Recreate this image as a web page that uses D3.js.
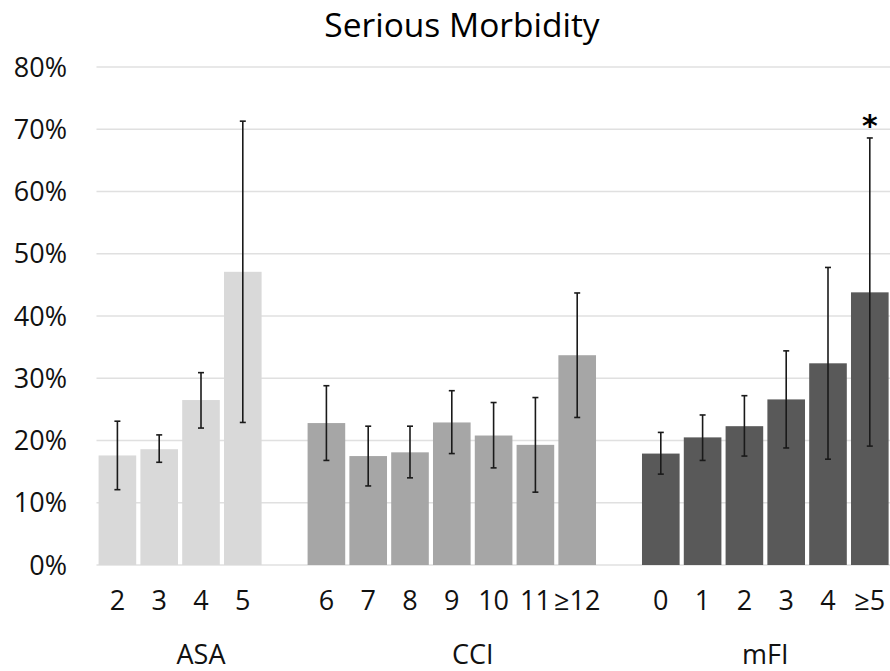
<!DOCTYPE html>
<html>
<head>
<meta charset="utf-8">
<script src="https://cdn.jsdelivr.net/npm/d3@7.9.0/dist/d3.min.js"></script>
<style>
  body { margin: 0; background: #fff; }
  svg { display: block; font-family: "Open Sans", sans-serif; }
</style>
</head>
<body>
<svg id="chart" width="890" height="671"></svg>
<script>
// Chart data (serious morbidity rate, 95% CI)
const groups = ["ASA", "CCI", "mFI"];

const asaLabels = ["2", "3", "4", "5"];
const asaValues = [0.176, 0.186, 0.265, 0.471];
const asaLow = [0.121, 0.165, 0.220, 0.229];
const asaHigh = [0.231, 0.209, 0.309, 0.713];

const cciLabels = ["6", "7", "8", "9", "10", "11", "≥12"];
const cciValues = [0.228, 0.175, 0.181, 0.229, 0.208, 0.193, 0.337];
const cciLow = [0.168, 0.127, 0.140, 0.179, 0.156, 0.117, 0.237];
const cciHigh = [0.288, 0.223, 0.223, 0.280, 0.261, 0.269, 0.437];

const mfiLabels = ["0", "1", "2", "3", "4", "≥5"];
const mfiValues = [0.179, 0.205, 0.223, 0.266, 0.324, 0.438];
const mfiLow = [0.146, 0.168, 0.175, 0.188, 0.170, 0.191];
const mfiHigh = [0.213, 0.241, 0.272, 0.344, 0.478, 0.686];

const yTicks = [0, 0.1, 0.2, 0.3, 0.4, 0.5, 0.6, 0.7, 0.8];
const colors = { ASA: "#d9d9d9", CCI: "#a6a6a6", mFI: "#595959" };

// build rows, with one empty slot between groups (like the excel chart)
const raw = [
  [asaLabels, asaValues, asaLow, asaHigh],
  [cciLabels, cciValues, cciLow, cciHigh],
  [mfiLabels, mfiValues, mfiLow, mfiHigh]
];
let rows = [];
let slots = [];
raw.forEach(([labels, vals, lo, hi], g) => {
  labels.forEach((l, i) => {
    const key = groups[g] + "|" + l;
    slots.push(key);
    rows.push({ key, group: groups[g], label: l, value: vals[i], low: lo[i], high: hi[i] });
  });
  if (g < raw.length - 1) slots.push("gap" + g);
});

const svg = d3.select("#chart");
const plotLeft = 96.5, plotRight = 890.7, plotTop = 67, plotBottom = 565;

const x = d3.scaleBand().domain(slots).range([plotLeft, plotRight]).paddingInner(0.1).paddingOuter(0.05);
const y = d3.scaleLinear().domain([0, 0.8]).range([plotBottom, plotTop]);

// title
svg.append("text")
  .attr("x", 462).attr("y", 37)
  .attr("text-anchor", "middle")
  .attr("font-size", 33.5)
  .attr("fill", "#000")
  .text("Serious Morbidity");

// gridlines
svg.append("g").selectAll("line").data(yTicks).join("line")
  .attr("x1", plotLeft).attr("x2", 890)
  .attr("y1", d => y(d)).attr("y2", d => y(d))
  .attr("stroke", "#e0e0e0").attr("stroke-width", 1.5);

// y axis labels
svg.append("g").selectAll("text").data(yTicks).join("text")
  .attr("x", 67).attr("y", d => y(d) + 9.5)
  .attr("text-anchor", "end")
  .attr("font-size", 27)
  .attr("fill", "#111")
  .text(d => d3.format(".0%")(d));

// bars
svg.append("g").selectAll("rect").data(rows).join("rect")
  .attr("x", d => x(d.key))
  .attr("width", x.bandwidth())
  .attr("y", d => y(d.value))
  .attr("height", d => y(0) - y(d.value))
  .attr("fill", d => colors[d.group]);

// error bars
const err = svg.append("g").attr("stroke", "#1a1a1a").attr("stroke-width", 1.6);
rows.forEach(d => {
  const cx = x(d.key) + x.bandwidth() / 2;
  err.append("line").attr("x1", cx).attr("x2", cx).attr("y1", y(d.low)).attr("y2", y(d.high));
  err.append("line").attr("x1", cx - 3).attr("x2", cx + 3).attr("y1", y(d.low)).attr("y2", y(d.low));
  err.append("line").attr("x1", cx - 3).attr("x2", cx + 3).attr("y1", y(d.high)).attr("y2", y(d.high));
});

// significance marker on mFI >=5
const last = rows[rows.length - 1];
svg.append("text")
  .attr("x", x(last.key) + x.bandwidth() / 2)
  .attr("y", y(last.high) - 2)
  .attr("text-anchor", "middle")
  .attr("font-size", 30)
  .attr("font-weight", "bold")
  .attr("font-family", "DejaVu Sans")
  .attr("fill", "#000")
  .text("*");

// category labels
svg.append("g").selectAll("text").data(rows).join("text")
  .attr("x", d => x(d.key) + x.bandwidth() / 2)
  .attr("y", 610)
  .attr("text-anchor", "middle")
  .attr("font-size", 27)
  .attr("fill", "#111")
  .text(d => d.label);

// group labels, centred over the group's slots (incl. the gap after it)
groups.forEach((g, gi) => {
  const keys = rows.filter(r => r.group === g).map(r => r.key);
  if (gi < groups.length - 1) keys.push("gap" + gi);
  const x0 = x(keys[0]), x1 = x(keys[keys.length - 1]) + x.bandwidth();
  svg.append("text")
    .attr("x", (x0 + x1) / 2)
    .attr("y", 664)
    .attr("text-anchor", "middle")
    .attr("font-size", 27)
    .attr("fill", "#111")
    .text(g);
});
</script>
</body>
</html>
